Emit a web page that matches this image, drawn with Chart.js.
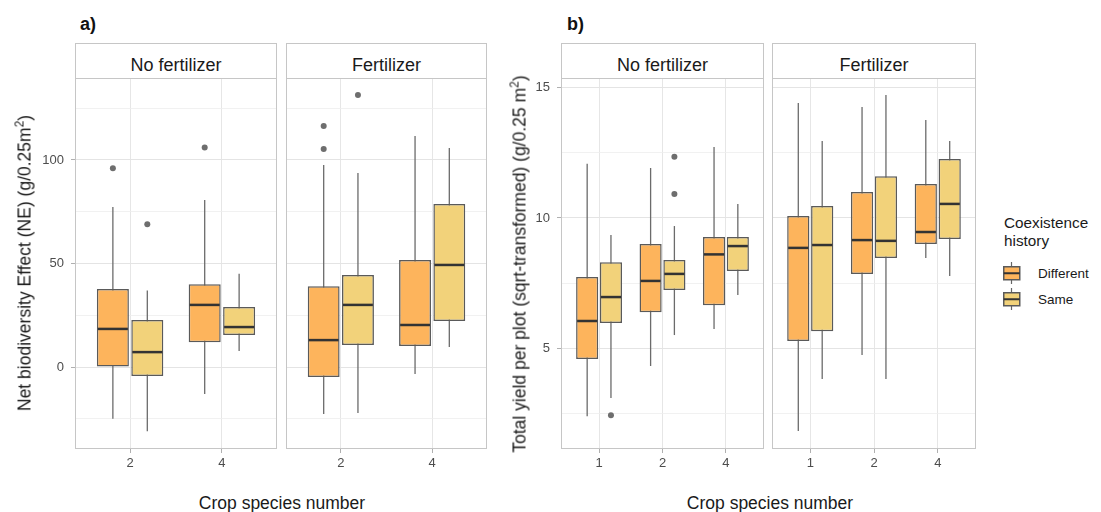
<!DOCTYPE html>
<html lang="en">
<head>
<meta charset="UTF-8">
<title>Net biodiversity effect and total yield</title>
<script src="https://cdn.jsdelivr.net/npm/chart.js@4/dist/chart.umd.min.js"></script>
<style>
  body { margin: 0; background: #fff; font-family: "Liberation Sans", Arial, sans-serif; }
  #wrap { position: relative; width: 1101px; height: 512px; overflow: hidden; }
  canvas { position: absolute; top: 78px; }
  .strip { position: absolute; top: 43px; height: 35px; box-sizing: border-box;
           border: 1px solid #c6c6c6; border-bottom: none; background: #fff; }
  .strip span { position: absolute; left: 0; right: 0; top: 12px; line-height: 18px;
                text-align: center; font-size: 18px; color: #1a1a1a; }
  .tag { position: absolute; top: 14px; font-size: 18px; font-weight: bold; color: #111; }
  .ytitle { position: absolute; white-space: nowrap; font-size: 17.5px; color: #1a1a1a;
            transform: translate(-50%, -50%) rotate(-90deg); }
  .ytitle sup { font-size: 12px; line-height: 0; }
  .xtitle { position: absolute; top: 494px; white-space: nowrap; font-size: 17.5px; color: #1a1a1a;
            transform: translateX(-50%); line-height: 18px; }
  .legend { position: absolute; left: 1003px; top: 214px; color: #1a1a1a; }
  .legend .ttl { font-size: 15.3px; line-height: 18px; margin-left: 1px; }
  .legend .row { position: absolute; left: 0; width: 100px; height: 26px; }
  .legend .row svg { position: absolute; left: 0; top: 0; }
  .legend .row span { position: absolute; left: 35px; top: 4px; font-size: 13.5px; line-height: 16px; }
</style>
</head>
<body>
<div id="wrap">
  <div class="tag" style="left:80px">a)</div>
  <div class="tag" style="left:567px">b)</div>

  <div class="strip" style="left:75px;width:202px"><span>No fertilizer</span></div>
  <div class="strip" style="left:286px;width:201px"><span>Fertilizer</span></div>
  <div class="strip" style="left:561px;width:203px"><span>No fertilizer</span></div>
  <div class="strip" style="left:772px;width:204px"><span>Fertilizer</span></div>

  <canvas id="aNo" width="277" height="411" style="left:0px"></canvas>
  <canvas id="aFe" width="201" height="411" style="left:286px"></canvas>
  <canvas id="bNo" width="264" height="411" style="left:500px"></canvas>
  <canvas id="bFe" width="204" height="411" style="left:772px"></canvas>

  <div class="ytitle" style="left:25px;top:263px">Net biodiversity Effect (NE) (g/0.25m<sup>2</sup>)</div>
  <div class="ytitle" style="left:520px;top:264px">Total yield per plot (sqrt-transformed) (g/0.25 m<sup>2</sup>)</div>
  <div class="xtitle" style="left:282px">Crop species number</div>
  <div class="xtitle" style="left:770px">Crop species number</div>

  <div class="legend">
    <div class="ttl">Coexistence<br>history</div>
    <div class="row" style="top:48px">
      <svg width="20" height="24"><line x1="8.5" y1="0" x2="8.5" y2="22" stroke="#666" stroke-width="1.2"/>
        <rect x="0.75" y="4.75" width="16" height="13" fill="#FDB45C" stroke="#5a5a5a" stroke-width="1.5"/>
        <line x1="0.75" y1="11.25" x2="16.75" y2="11.25" stroke="#333" stroke-width="2"/></svg>
      <span>Different</span>
    </div>
    <div class="row" style="top:74px">
      <svg width="20" height="24"><line x1="8.5" y1="0" x2="8.5" y2="22" stroke="#666" stroke-width="1.2"/>
        <rect x="0.75" y="4.75" width="16" height="13" fill="#F2D27A" stroke="#5a5a5a" stroke-width="1.5"/>
        <line x1="0.75" y1="11.25" x2="16.75" y2="11.25" stroke="#333" stroke-width="2"/></svg>
      <span>Same</span>
    </div>
  </div>
</div>

<script>
// crop species number categories
const catsA = ['2', '4'];
const catsB = ['1', '2', '4'];

// box stats per category: [lower whisker, Q1, median, Q3, upper whisker]
// a) Net biodiversity effect
const neNoFertDiff = [[-25, 0, 18.4, 37.7, 77.3], [-13, 12, 30, 40, 80.7]];
const neNoFertSame = [[-31, -4.3, 7.2, 22.7, 37], [7.7, 15.5, 19.3, 29, 45]];
const neFertDiff = [[-22.7, -4.8, 13, 39, 97.6], [-3.4, 10.1, 20.3, 51.7, 111.6]];
const neFertSame = [[-22.2, 10.6, 30, 44.4, 93.7], [9.7, 22.2, 49.3, 78.7, 105.8]];
const neNoFertDiffOut = [[96], [106]];
const neNoFertSameOut = [[69], []];
const neFertDiffOut = [[116.4, 105.3], []];
const neFertSameOut = [[131.4], []];

// b) Total yield (sqrt-transformed)
const yNoFertDiff = [[2.38, 4.58, 6.04, 7.73, 12.08], [4.31, 6.38, 7.58, 9.0, 11.92], [5.73, 6.65, 8.6, 9.27, 12.73]];
const yNoFertSame = [[3.08, 5.96, 6.96, 8.3, 9.35], [5.5, 7.23, 7.85, 8.38, 9.69], [7.04, 7.96, 8.92, 9.27, 10.54]];
const yFertDiff = [[1.81, 5.27, 8.85, 10.08, 14.42], [4.73, 7.85, 9.15, 11.0, 14.27], [8.46, 9.0, 9.46, 11.31, 13.77]];
const yFertSame = [[3.81, 5.65, 8.96, 10.46, 12.96], [3.81, 8.46, 9.12, 11.6, 14.73], [7.77, 9.19, 10.54, 12.27, 12.96]];
const yNoFertDiffOut = [[], [], []];
const yNoFertSameOut = [[2.42], [12.35, 10.92], []];
const yFertDiffOut = [[], [], []];
const yFertSameOut = [[], [], []];

// y grid (major ones get labels)
const neTicks = [-25, 0, 25, 50, 75, 100, 125];
const yieldTicks = [2.5, 5, 7.5, 10, 12.5, 15];

const colDiff = '#FDB45C';
const colSame = '#F2D27A';

Chart.defaults.font.family = '"Liberation Sans", Arial, sans-serif';
Chart.defaults.animation = false;

// whiskers, medians, outliers and the panel frame
const boxParts = {
  id: 'boxParts',
  beforeDatasetsDraw(chart) {
    const ctx = chart.ctx, a = chart.chartArea, y = chart.scales.y;
    ctx.save();
    ctx.strokeStyle = '#c6c6c6';
    ctx.lineWidth = 1;
    ctx.strokeRect(a.left + 0.5, a.top + 0.5, a.width - 1, a.height - 1);
    ctx.strokeStyle = '#6b6b6b';
    ctx.lineWidth = 1.3;
    chart.data.datasets.forEach((ds, di) => {
      chart.getDatasetMeta(di).data.forEach((bar, i) => {
        const s = ds.stats[i];
        ctx.beginPath();
        ctx.moveTo(bar.x, y.getPixelForValue(s[0]));
        ctx.lineTo(bar.x, y.getPixelForValue(s[4]));
        ctx.stroke();
      });
    });
    ctx.restore();
  },
  afterDatasetsDraw(chart) {
    const ctx = chart.ctx, y = chart.scales.y;
    ctx.save();
    chart.data.datasets.forEach((ds, di) => {
      chart.getDatasetMeta(di).data.forEach((bar, i) => {
        const s = ds.stats[i];
        const py = y.getPixelForValue(s[2]);
        ctx.strokeStyle = '#333';
        ctx.lineWidth = 2.5;
        ctx.beginPath();
        ctx.moveTo(bar.x - bar.width / 2 + 1, py);
        ctx.lineTo(bar.x + bar.width / 2 - 1, py);
        ctx.stroke();
        ctx.fillStyle = '#6e6e6e';
        ds.outliers[i].forEach(v => {
          ctx.beginPath();
          ctx.arc(bar.x, y.getPixelForValue(v), 3, 0, Math.PI * 2);
          ctx.fill();
        });
      });
    });
    ctx.restore();
  }
};

function boxSet(label, stats, outliers, color) {
  return {
    label: label,
    data: stats.map((s, i) => ({ x: i + 1, y: [s[1], s[3]] })),
    stats: stats,
    outliers: outliers,
    backgroundColor: color,
    borderColor: '#5a5a5a',
    borderWidth: 1.5,
    borderSkipped: false,
    categoryPercentage: 0.75,
    barPercentage: 0.93
  };
}

function facet(id, cats, diff, diffOut, same, sameOut, yMin, yMax, yTicks, major, yW) {
  const showY = yW > 0;
  new Chart(document.getElementById(id), {
    type: 'bar',
    data: {
      datasets: [
        boxSet('Different', diff, diffOut, colDiff),
        boxSet('Same', same, sameOut, colSame)
      ]
    },
    options: {
      responsive: false,
      layout: { padding: 0 },
      plugins: { legend: { display: false }, tooltip: { enabled: false } },
      scales: {
        x: {
          type: 'linear',
          min: 0.4,
          max: cats.length + 0.6,
          bounds: 'data',
          offset: false,
          afterBuildTicks: s => { s.ticks = cats.map((c, i) => ({ value: i + 1 })); },
          afterFit: s => { s.height = 40; s.paddingLeft = 0; s.paddingRight = 0; },
          ticks: {
            autoSkip: false, maxRotation: 0, padding: 3,
            color: '#4d4d4d', font: { size: 13 },
            callback: v => cats[Math.round(v) - 1]
          },
          grid: { offset: false, color: '#e6e6e6', lineWidth: 1, tickLength: 4, tickColor: '#b0b0b0' },
          border: { display: false }
        },
        y: {
          min: yMin,
          max: yMax,
          bounds: 'data',
          afterBuildTicks: s => { s.ticks = yTicks.map(v => ({ value: v })); },
          afterFit: s => { s.width = yW; s.paddingTop = 0; s.paddingBottom = 0; },
          ticks: {
            display: showY, padding: 7,
            color: '#4d4d4d', font: { size: 13 },
            callback: v => (v % major === 0 ? String(v) : '')
          },
          grid: {
            drawTicks: showY,
            tickLength: 4,
            color: c => (c.tick && c.tick.value % major === 0 ? '#e4e4e4' : '#eeeeee'),
            lineWidth: c => (c.tick && c.tick.value % major === 0 ? 1 : 0.8),
            tickColor: c => (c.tick && c.tick.value % major === 0 ? '#b0b0b0' : 'rgba(0,0,0,0)')
          },
          border: { display: false }
        }
      }
    },
    plugins: [boxParts]
  });
}

facet('aNo', catsA, neNoFertDiff, neNoFertDiffOut, neNoFertSame, neNoFertSameOut, -39.6, 139.6, neTicks, 50, 75);
facet('aFe', catsA, neFertDiff, neFertDiffOut, neFertSame, neFertSameOut, -39.6, 139.6, neTicks, 50, 0);
facet('bNo', catsB, yNoFertDiff, yNoFertDiffOut, yNoFertSame, yNoFertSameOut, 1.12, 15.38, yieldTicks, 5, 61);
facet('bFe', catsB, yFertDiff, yFertDiffOut, yFertSame, yFertSameOut, 1.12, 15.38, yieldTicks, 5, 0);
</script>
</body>
</html>
